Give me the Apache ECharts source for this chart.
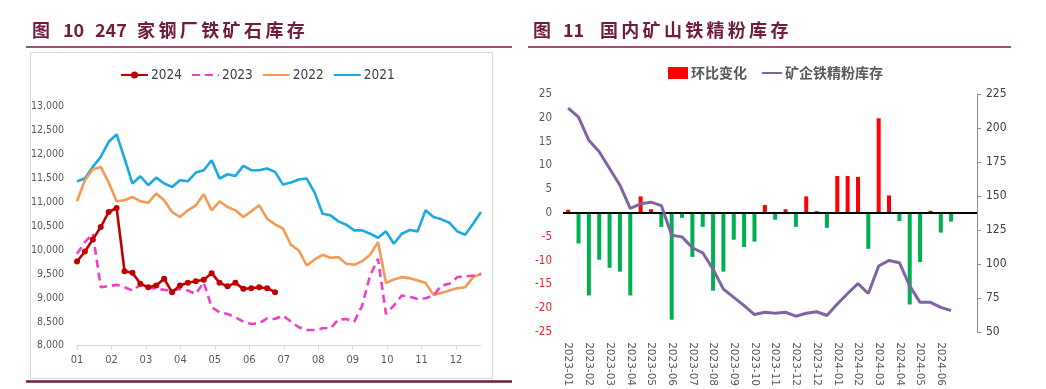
<!DOCTYPE html>
<html><head><meta charset="utf-8">
<script src="https://cdn.jsdelivr.net/npm/echarts@6/dist/echarts.min.js"></script>
<style>html,body{margin:0;padding:0;background:#fff}#c{width:1046px;height:389px}</style>
</head><body><div id="c"></div>
<script>
// ---------- Left chart: 247 steel mills iron ore inventory (weekly) ----------
const monthLabels = ['01','02','03','04','05','06','07','08','09','10','11','12'];
const weeksPerMonth = 4.35;
const y2024 = [9762, 9972, 10224, 10483, 10797, 10881, 9559, 9524, 9294, 9224, 9259, 9399, 9119, 9259, 9315, 9350, 9378, 9517, 9315, 9245, 9315, 9189, 9203, 9224, 9203, 9119];
const y2023 = [9923, 10168, 10343, 9224, 9245, 9273, 9224, 9154, 9273, 9224, 9189, 9168, 9154, 9189, 9154, 9084, 9329, 8804, 8699, 8664, 8594, 8503, 8455, 8469, 8573, 8560, 8630, 8504, 8385, 8329, 8329, 8364, 8364, 8546, 8560, 8504, 8839, 9469, 9818, 8664, 8839, 9049, 9028, 8979, 8993, 9049, 9259, 9294, 9434, 9448, 9469, 9503];
const y2022 = [11021, 11462, 11692, 11741, 11413, 11021, 11042, 11112, 11021, 10993, 11182, 11042, 10797, 10692, 10832, 10937, 11168, 10832, 11021, 10902, 10832, 10692, 10811, 10937, 10657, 10538, 10448, 10112, 9993, 9678, 9804, 9902, 9839, 9853, 9713, 9692, 9769, 9902, 10168, 9315, 9385, 9434, 9413, 9364, 9315, 9063, 9105, 9154, 9203, 9224, 9434, 9503];
const y2021 = [11441, 11497, 11741, 11951, 12266, 12420, 11916, 11392, 11545, 11357, 11517, 11392, 11322, 11462, 11441, 11622, 11671, 11881, 11497, 11587, 11552, 11762, 11671, 11671, 11706, 11636, 11371, 11413, 11476, 11497, 11203, 10762, 10727, 10601, 10531, 10413, 10413, 10343, 10259, 10392, 10133, 10343, 10420, 10392, 10832, 10692, 10643, 10573, 10392, 10322, 10553, 10797];

// ---------- Right chart: domestic mine iron concentrate inventory ----------
const categories = ['2023-01','2023-01','2023-02','2023-02','2023-03','2023-03','2023-04','2023-04','2023-05','2023-05',
  '2023-06','2023-06','2023-07','2023-07','2023-08','2023-08','2023-09','2023-09','2023-10','2023-10',
  '2023-11','2023-11','2023-12','2023-12','2023-12','2023-12','2024-01','2024-01','2024-02','2024-02',
  '2024-03','2024-03','2024-04','2024-04','2024-05','2024-05','2024-06','2024-06','',''];
const momChange = [0.7, -6.4, -17.3, -9.8, -11.5, -12.3, -17.3, 3.5, 0.8, -2.9, -22.4, -1.0, -9.2, -2.9, -16.3, -12.3, -5.6, -7.1, -6.0, 1.7, -1.4, 0.8, -2.9, 3.5, 0.4, -3.1, 7.8, 7.8, 7.6, -7.5, 19.9, 3.7, -1.7, -19.2, -10.3, 0.5, -4.1, -1.8];
const mineStock = [214.6, 208, 191, 182.5, 170.3, 158, 141, 144.3, 145.5, 143, 121.2, 120, 112, 108.3, 96.2, 81.6, 75.5, 69.5, 62.9, 64.6, 63.9, 64.6, 61.7, 63.9, 65, 62.2, 70.6, 78.4, 85.7, 78.4, 98.6, 102.7, 101, 84, 71.9, 71.9, 68.2, 65.8];

const MAROON = '#701C40';
const monthTicks = monthLabels.map((m, i) => +(i * weeksPerMonth).toFixed(2));
const toPairs = arr => arr.map((v, i) => [i, v]);
const narrow = "'DejaVu Sans Condensed','Liberation Sans Narrow','Liberation Sans',sans-serif";

function titleGraphics(segs, y) {
  return segs.map(s => ({
    type: 'text', left: s.x, top: y - 11,
    style: { text: s.t, fill: MAROON, font: "bold 18px 'Noto Sans CJK SC','Liberation Sans',sans-serif" }
  }));
}
function charRun(str, x0, pitch) {
  return str.split('').map((c, i) => ({ t: c, x: x0 + i * pitch }));
}
const leftTitle = [{ t: '图', x: 32 }, { t: '10', x: 63 }, { t: '247', x: 95 }].concat(charRun('家钢厂铁矿石库存', 137, 21.4));
const rightTitle = [{ t: '图', x: 533 }, { t: '11', x: 563 }].concat(charRun('国内矿山铁精粉库存', 600, 21.3));
const noMarker = { opacity: 0 };

const chart = echarts.init(document.getElementById('c'), null, { renderer: 'canvas' });
chart.setOption({
  animation: false,
  backgroundColor: '#fff',
  graphic: [
    { type: 'rect', shape: { x: 30.5, y: 52.5, width: 462, height: 326 }, style: { fill: 'none', stroke: '#D9D9D9', lineWidth: 1 }, z: -10 },
    { type: 'line', shape: { x1: 26, y1: 47, x2: 512, y2: 47 }, style: { stroke: MAROON, lineWidth: 1.5 } },
    { type: 'line', shape: { x1: 528, y1: 47, x2: 1011, y2: 47 }, style: { stroke: MAROON, lineWidth: 1.5 } },
    { type: 'line', shape: { x1: 26, y1: 381.5, x2: 512, y2: 381.5 }, style: { stroke: MAROON, lineWidth: 2.5 } }
  ].concat(titleGraphics(leftTitle, 32), titleGraphics(rightTitle, 32)),
  legend: [
    {
      data: [{ name: '2024' }, { name: '2023', itemStyle: noMarker }, { name: '2022', itemStyle: noMarker }, { name: '2021', itemStyle: noMarker }],
      left: 120, top: 68, padding: 0, itemWidth: 27, itemHeight: 9, itemGap: 9,
      textStyle: { fontSize: 13.5, color: '#404040', fontFamily: narrow, padding: [0, 0, 0, -2] }
    },
    {
      data: [{ name: '环比变化', icon: 'rect' }, { name: '矿企铁精粉库存', itemStyle: noMarker }],
      left: 668, top: 66, padding: 0, itemWidth: 20, itemHeight: 12, itemGap: 14,
      textStyle: { fontSize: 14, color: '#595959', fontWeight: 'bold', fontFamily: "'Noto Sans CJK SC',sans-serif", padding: [0, 0, 0, -2] }
    }
  ],
  grid: [
    { left: 77, top: 106.7, width: 404, height: 239 },
    { left: 563, top: 94, width: 414, height: 240 }
  ],
  xAxis: [
    {
      type: 'value', gridIndex: 0, min: 0, max: 51,
      axisLine: { show: true, lineStyle: { color: '#D9D9D9', width: 1 } },
      axisTick: { show: true, customValues: monthTicks, length: 4, lineStyle: { color: '#D9D9D9' } },
      axisLabel: { customValues: monthTicks, margin: 9, fontSize: 11, color: '#595959', fontFamily: narrow,
        formatter: v => monthLabels[Math.round(v / weeksPerMonth)] || '' },
      splitLine: { show: false }
    },
    {
      type: 'category', gridIndex: 1, data: categories, boundaryGap: true,
      axisLine: { show: false }, axisTick: { show: false },
      axisLabel: { interval: 1, rotate: -90, margin: 10, fontSize: 10.5, color: '#595959', fontFamily: "'DejaVu Sans','Liberation Sans',sans-serif" }
    }
  ],
  yAxis: [
    {
      type: 'value', gridIndex: 0, min: 8000, max: 13000, interval: 500,
      axisLine: { show: false }, axisTick: { show: false }, splitLine: { show: false },
      axisLabel: { margin: 13, fontSize: 10.5, color: '#595959', fontFamily: narrow, formatter: v => v.toLocaleString('en-US') }
    },
    {
      type: 'value', gridIndex: 1, position: 'left', min: -25, max: 25, interval: 5,
      axisLine: { show: false }, axisTick: { show: false }, splitLine: { show: false },
      axisLabel: { margin: 11, fontSize: 11.5, fontFamily: narrow,
        formatter: v => v < 0 ? '{n|' + v + '}' : '{p|' + v + '}',
        rich: { n: { color: '#E3232C', fontSize: 11.5, fontFamily: narrow }, p: { color: '#595959', fontSize: 11.5, fontFamily: narrow } } }
    },
    {
      type: 'value', gridIndex: 1, position: 'right', min: 50, max: 225, interval: 25,
      axisLine: { show: true, lineStyle: { color: '#8C8C8C', width: 1 } },
      axisTick: { show: true, length: 4, lineStyle: { color: '#8C8C8C' } },
      splitLine: { show: false },
      axisLabel: { margin: 9, fontSize: 12, color: '#404040', fontFamily: narrow }
    }
  ],
  series: [
    { name: '2021', type: 'line', xAxisIndex: 0, yAxisIndex: 0, data: toPairs(y2021), symbol: 'none', color: '#1AA9E0', lineStyle: { width: 2.6 } },
    { name: '2022', type: 'line', xAxisIndex: 0, yAxisIndex: 0, data: toPairs(y2022), symbol: 'none', color: '#F59A52', lineStyle: { width: 2.6 } },
    { name: '2023', type: 'line', xAxisIndex: 0, yAxisIndex: 0, data: toPairs(y2023), symbol: 'none', color: '#EE3FC9', lineStyle: { width: 2.6, type: [8, 5] } },
    { name: '2024', type: 'line', xAxisIndex: 0, yAxisIndex: 0, data: toPairs(y2024), symbol: 'circle', symbolSize: 6, color: '#C00000', lineStyle: { width: 2.6 } },
    {
      name: '环比变化', type: 'bar', xAxisIndex: 1, yAxisIndex: 1, data: momChange, barWidth: 4, color: '#FF0000',
      itemStyle: { color: p => p.value >= 0 ? '#FF0000' : '#00B050' },
      markLine: { silent: true, symbol: 'none', label: { show: false }, lineStyle: { color: '#000', width: 2, type: 'solid' }, data: [{ yAxis: 0 }] }
    },
    { name: '矿企铁精粉库存', type: 'line', xAxisIndex: 1, yAxisIndex: 2, data: mineStock, symbol: 'none', color: '#8064A2', lineStyle: { width: 3 }, z: 5 }
  ]
});
</script>
</body></html>
